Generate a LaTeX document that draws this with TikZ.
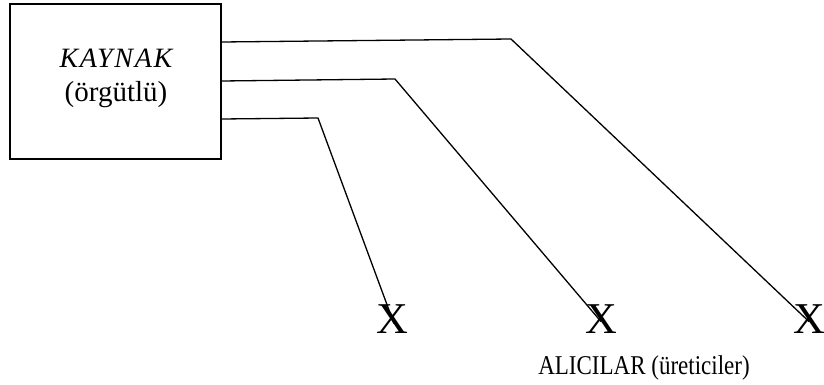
\documentclass[tikz,border=0pt]{standalone}
\usepackage{fontspec}
\setmainfont{Liberation Serif}
\usetikzlibrary{calc}
\begin{document}
\begin{tikzpicture}[x=1pt,y=-1pt,
  wire/.style={line width=1.3pt,line join=round},
  srcbox/.style={draw,line width=1.6pt,minimum width=211pt,minimum height=155pt,inner sep=0pt},
  recv/.style={inner sep=0pt,anchor=base,font=\fontsize{44}{46}\selectfont},
  lbl/.style={inner sep=0pt,anchor=base}]
\useasboundingbox (0,0) rectangle (824,385);
\node[srcbox] (src) at (115.5,81.5) {};
\node[lbl,font=\fontsize{28}{30}\selectfont\itshape\addfontfeature{LetterSpace=6}] (t1) at (116,68) {KAYNAK};
\node[lbl,font=\fontsize{29}{31}\selectfont] (t2) at (116,102) {(örgütlü)};
\node[recv] (x1) at (392,333) {X};
\node[recv] (x2) at (601,333) {X};
\node[recv] (x3) at (809,333) {X};
\node[lbl,font=\fontsize{23}{26}\selectfont] (al) at (644,374) {\scalebox{1}[1.18]{ALICILAR (üreticiler)}};
\coordinate (s1) at (src.east |- 0,42);
\coordinate (s2) at (src.east |- 0,81);
\coordinate (s3) at (src.east |- 0,119);
\coordinate (b1) at (511,39);
\coordinate (b2) at (395,79);
\coordinate (b3) at (318,118);
\draw[wire] (s1) -- (b1) -- ($(x3.center)+(0,3)$);
\draw[wire] (s2) -- (b2) -- ($(x2.center)+(0,3)$);
\draw[wire] (s3) -- (b3) -- ($(x1.center)+(2,5)$);
\end{tikzpicture}
\end{document}
